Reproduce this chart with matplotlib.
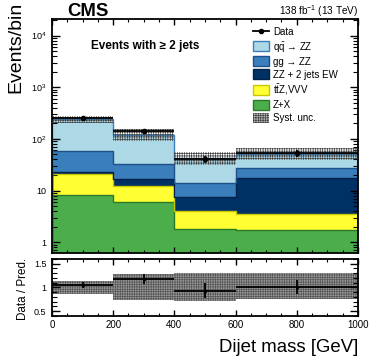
import numpy as np
import matplotlib.pyplot as plt
from matplotlib.lines import Line2D
from matplotlib.patches import Patch
from matplotlib.ticker import FixedLocator, MultipleLocator, LogLocator, NullFormatter, FuncFormatter

plt.rcParams['font.family'] = ['Liberation Sans', 'DejaVu Sans']
plt.rcParams['mathtext.fontset'] = 'custom'
plt.rcParams['mathtext.rm'] = 'Liberation Sans'
plt.rcParams['mathtext.it'] = 'Liberation Sans:italic'
plt.rcParams['mathtext.bf'] = 'Liberation Sans:bold'
plt.rcParams['hatch.linewidth'] = 0.5

# binning (GeV)
edges = [0, 200, 400, 600, 1000]

# stacked predictions, bottom to top
zx = [8.2, 5.9, 1.8, 1.75]
ttz_vvv = [12.4, 6.5, 2.3, 1.75]
zz_ew = [2.3, 4.1, 3.5, 14.2]
gg_zz = [36.1, 16.2, 6.6, 9.3]
qq_zz = [181.0, 88.3, 29.3, 24.7]

# data
data = [252.0, 143.0, 40.5, 52.7]
data_err = [16.0, 12.0, 6.8, 7.6]

# relative syst. uncertainty (down, up)
syst_dn = [0.14, 0.26, 0.28, 0.24]
syst_up = [0.14, 0.29, 0.31, 0.30]

labels = ['Z+X', r't$\bar{\mathrm{t}}$Z,VVV', 'ZZ + 2 jets EW',
          'gg → ZZ', r'q$\bar{\mathrm{q}}$ → ZZ']
fills = ['#4cae4a', '#ffff33', '#003165', '#3a7ebb', '#add8e6']
lines = ['#2a7a2a', '#c8c800', '#00214a', '#1f4f8a', '#3a7ebb']

edges = np.array(edges, dtype=float)
centers = 0.5 * (edges[1:] + edges[:-1])
halfw = 0.5 * np.diff(edges)
comps = [zx, ttz_vvv, zz_ew, gg_zz, qq_zz]
total = np.sum(comps, axis=0)
data = np.array(data)
data_err = np.array(data_err)
lo = total * (1 - np.array(syst_dn))
hi = total * (1 + np.array(syst_up))

fig = plt.figure(figsize=(3.74, 3.63), dpi=100)
ax = fig.add_axes([0.139, 0.303, 0.818, 0.645])
rax = fig.add_axes([0.139, 0.1295, 0.818, 0.157])

ax.hist([centers] * 5, bins=edges, weights=comps, stacked=True,
        histtype='stepfilled', color=fills, edgecolor=None, linewidth=0, zorder=1)
for c, lc in zip(np.cumsum(comps, axis=0), lines):
    ax.stairs(c, edges, color=lc, linewidth=1.0, zorder=2)

ax.bar(edges[:-1], hi - lo, bottom=lo, width=np.diff(edges), align='edge',
       facecolor='none', edgecolor='#444444', hatch='+++++++', linewidth=0, zorder=3)
ax.errorbar(centers, data, xerr=halfw, yerr=data_err, fmt='o', color='k',
            ms=3, lw=1.3, capsize=0, zorder=4)

ax.set_yscale('log')
ax.set_xlim(0, 1000)
ax.set_ylim(0.62, 2.1e4)


def logfmt(v, pos):
    if np.isclose(v, 1):
        return '1'
    if np.isclose(v, 10):
        return '10'
    return r'$10^{%d}$' % int(round(np.log10(v)))


ax.yaxis.set_major_locator(LogLocator(base=10, numticks=10))
ax.yaxis.set_minor_locator(LogLocator(base=10, subs=np.arange(2, 10), numticks=20))
ax.yaxis.set_major_formatter(FuncFormatter(logfmt))
ax.yaxis.set_minor_formatter(NullFormatter())
ax.xaxis.set_major_locator(MultipleLocator(200))
ax.xaxis.set_minor_locator(MultipleLocator(50))
ax.tick_params(axis='x', labelbottom=False)

for a in (ax, rax):
    a.tick_params(which='both', direction='in', top=True, right=True, labelsize=6.5)
    a.tick_params(axis='y', which='major', length=6, width=1.0, pad=4)
    a.tick_params(axis='y', which='minor', length=3.5, width=0.8)
    a.tick_params(axis='x', which='major', length=4.5, width=1.0, pad=3)
    a.tick_params(axis='x', which='minor', length=2.2, width=0.8)
    for s in a.spines.values():
        s.set_linewidth(1.3)

# ratio panel
rax.bar(edges[:-1], (hi - lo) / total, bottom=lo / total, width=np.diff(edges), align='edge',
        facecolor='#9a9a9a', edgecolor='#555555', hatch='+++++++', linewidth=0, zorder=1)
rax.errorbar(centers, data / total, xerr=halfw, yerr=data_err / total, fmt='o',
             color='k', ms=1.5, lw=1.3, capsize=0, zorder=3)
rax.set_xlim(0, 1000)
rax.set_ylim(0.4, 1.6)
rax.yaxis.set_major_locator(FixedLocator([0.5, 1.0, 1.5]))
rax.yaxis.set_major_formatter(FuncFormatter(lambda v, p: '%g' % v))
rax.yaxis.set_minor_locator(MultipleLocator(0.1))
rax.xaxis.set_major_locator(MultipleLocator(200))
rax.xaxis.set_minor_locator(MultipleLocator(50))
rax.tick_params(axis='x', labelsize=7)

# legend
handles = [Line2D([], [], color='k', marker='o', ms=3, lw=1.3)]
for f, lc in zip(fills[::-1], lines[::-1]):
    handles.append(Patch(facecolor=f, edgecolor=lc, linewidth=1.0))
handles.append(Patch(facecolor='#b8b8b8', edgecolor='#444444', hatch='+++++++', linewidth=0))
leg_labels = ['Data'] + labels[::-1] + ['Syst. unc.']
ax.legend(handles, leg_labels, loc='upper left', bbox_to_anchor=(0.657, 0.967),
          frameon=False, fontsize=7, handlelength=1.65, handleheight=1.2,
          labelspacing=0.28, handletextpad=0.4, borderpad=0, borderaxespad=0)

ax.text(0.127, 0.886, 'Events with ≥ 2 jets', transform=ax.transAxes,
        fontsize=8.5, fontweight='bold', va='center', ha='left')

fig.text(67 / 374, 1 - 16 / 363, 'CMS', fontsize=13.4, fontweight='bold', ha='left', va='baseline')
fig.text(358 / 374, 1 - 15 / 363, r'138 fb$^{-1}$ (13 TeV)', fontsize=7.2, ha='right', va='baseline')
fig.text(16 / 374, 1 - 2 / 363, 'Events/bin', fontsize=14, rotation=90, ha='center', va='top')
fig.text(23 / 374, 1 - 289 / 363, 'Data / Pred.', fontsize=8.4, rotation=90, ha='center', va='center')
fig.text(358 / 374, 1 - 352.5 / 363, 'Dijet mass [GeV]', fontsize=13.4, ha='right', va='baseline')

fig.savefig('out.png', dpi=100)
